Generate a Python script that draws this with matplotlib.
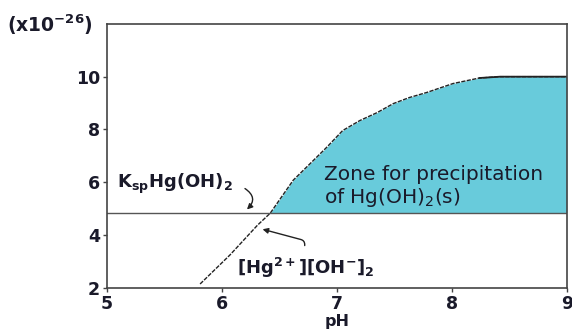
import matplotlib.pyplot as plt
import numpy as np

# curve [Hg2+][OH-]^2 (x1e-26)
ph = [5.81, 6.07, 6.31, 6.42, 6.62, 6.77, 6.91, 7.05, 7.20, 7.35, 7.49, 7.63, 7.78,
      8.01, 8.24, 8.42, 9.0]
ionprod = [2.15, 3.25, 4.38, 4.83, 6.08, 6.72, 7.32, 7.96, 8.34, 8.64, 8.98, 9.21, 9.40,
           9.74, 9.95, 10.0, 10.0]
ksp = 4.85

xticks = [5, 6, 7, 8, 9]
yticks = [2, 4, 6, 8, 10]

plt.rcParams['font.family'] = ['DejaVu Sans']
fig = plt.figure(figsize=(5.72, 3.36), dpi=100)
ax = fig.add_axes([0.187, 0.143, 0.804, 0.786])

# fine resampling only for the fill boundary
xf = np.linspace(ph[0], ph[-1], 400)
yf = np.interp(xf, ph, ionprod)
ax.fill_between(xf, ksp, yf, where=yf >= ksp, color='#68cbdb', linewidth=0)

ax.plot(ph, ionprod, color='#222222', lw=1.0, ls=(0, (3, 1)))
ax.plot(ph[-3:], ionprod[-3:], color='#222222', lw=1.3)
ax.axhline(ksp, color='#555555', lw=1.0)

ax.set_xlim(5, 9)
ax.set_ylim(2, 12)
ax.set_xticks(xticks)
ax.set_yticks(yticks)
ax.tick_params(labelsize=12.5, length=3, color='#444444', width=1, pad=2)
for lab in ax.get_xticklabels() + ax.get_yticklabels():
    lab.set_fontweight('bold')
    lab.set_color('#1a1a2a')
for s in ax.spines.values():
    s.set_color('#444444')
    s.set_linewidth(1.2)
ax.set_xlabel('pH', fontsize=11.5, fontweight='bold', labelpad=1, color='#1a1a2a')

fig.text(0.012, 0.925, r'(x10$^{\mathbf{-26}}$)', fontsize=13.5, fontweight='bold',
         color='#1a1a2a', va='center')

ax.text(5.09, 5.95, r'K$_{\mathbf{sp}}$Hg(OH)$_{\mathbf{2}}$', fontsize=13,
        fontweight='bold', color='#1a1a2a', va='center')
ax.annotate('', xy=(6.2, 4.9), xytext=(6.18, 5.82),
            arrowprops=dict(arrowstyle='-|>', color='#222222', lw=1,
                            mutation_scale=8, connectionstyle='arc3,rad=-0.7'))

ax.text(6.13, 2.75, r'[Hg$^{\mathbf{2+}}$][OH$^{\mathbf{-}}$]$_{\mathbf{2}}$', fontsize=13,
        fontweight='bold', color='#1a1a2a', va='center')
ax.annotate('', xy=(6.33, 4.25), xytext=(6.72, 3.5),
            arrowprops=dict(arrowstyle='-|>', color='#222222', lw=1,
                            mutation_scale=8, connectionstyle='angle,angleA=90,angleB=165,rad=4'))

ax.text(6.89, 5.82, 'Zone for precipitation\nof Hg(OH)$_2$(s)', fontsize=14.5,
        color='#1a1a2a', va='center', linespacing=1.1)

fig.savefig('out.png', dpi=100)
